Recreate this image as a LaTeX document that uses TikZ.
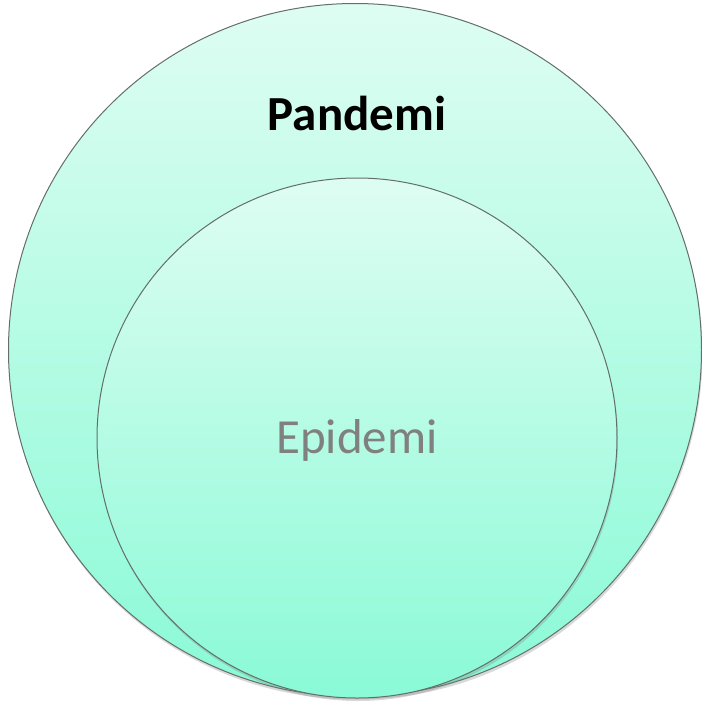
\documentclass[tikz,border=0pt]{standalone}
\usepackage{fontspec}
\setmainfont{Carlito}
\usepackage{tikz}
\usetikzlibrary{shadows}
\definecolor{mintlight}{RGB}{222,253,242}
\definecolor{mintdark}{RGB}{138,250,214}
\definecolor{rimgray}{RGB}{100,110,106}
\definecolor{labelgray}{RGB}{128,128,128}

\begin{document}
\begin{tikzpicture}[
    x=1pt, y=-1pt,
    set/.style={circle, inner sep=0pt, minimum size=#1, top color=mintlight, bottom color=mintdark, draw=rimgray, line width=1pt,
        drop shadow={shadow xshift=1pt, shadow yshift=-3pt, opacity=0.3}},
    setname/.style={font=\fontsize{49}{52}\selectfont, inner sep=0pt}
]
\useasboundingbox (0,0) rectangle (702,705);

% Mengder
\node[set=693pt] (pandemi) at (355,350) {};
\node[set=520pt] (epidemi) at (357,438) {};

% Navn
\node[setname, font=\fontsize{49}{52}\selectfont\bfseries] (pandeminame) at (357,113) {Pandemi};
\node[setname, text=labelgray] (epideminame) at (357,440) {Epidemi};

\end{tikzpicture}
\end{document}
